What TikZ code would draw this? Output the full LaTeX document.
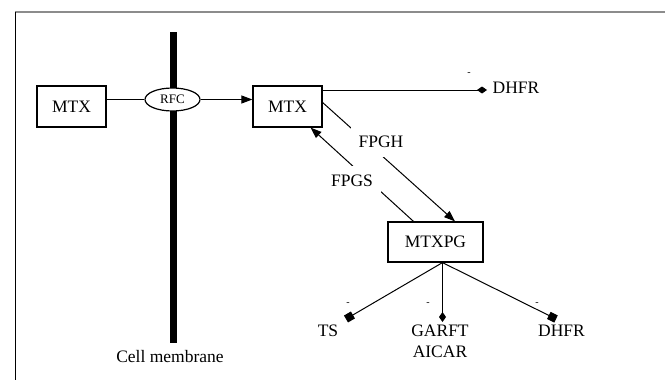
\documentclass[tikz,border=0pt]{standalone}
\usepackage{fontspec}
\setmainfont{Liberation Serif}
\usetikzlibrary{arrows.meta,positioning,shapes.geometric}

\begin{document}
\begin{tikzpicture}[
			x=1pt, y=-1pt,
			box/.style={draw, rectangle, line width=1.2pt, minimum width=69pt, minimum height=41pt, font=\fontsize{17.5}{20.5}\selectfont},
			channel/.style={draw, ellipse, fill=white, line width=1.2pt, minimum width=55pt, minimum height=23pt, inner sep=0pt, font=\fontsize{13}{15}\selectfont},
			membrane/.style={rectangle, fill=black, minimum width=7pt, minimum height=311pt, inner sep=0pt},
			title/.style={fill=none, align=center, inner sep=2pt, font=\fontsize{17.5}{20.5}\selectfont},
			enzyme/.style={title, fill=white, inner xsep=8pt, inner ysep=9pt},
			minusMark/.style={inner sep=0pt, font=\fontsize{10}{12}\selectfont},
			arrow/.style={line width=1pt},
			arrowStrong/.style={line width=1pt, -{Triangle[length=11pt,width=8pt]}},
			inhibitDiamond/.style={line width=1pt, -{Diamond[length=10pt,width=7pt]}},
			inhibitSquare/.style={line width=1pt, -{Square[length=8pt,width=8pt]}},
			]
			\useasboundingbox (0,0) rectangle (665,380);
			
			% frame
			\draw[gray!90, line width=1.5pt] (15,12) -- (665,12);
			\draw[line width=1pt] (15,12) -- (15,380);
			
			% membrane
			\draw node[membrane] (membraneBar) at (173,187.5) {};
			\draw node[title][below=5pt of membraneBar, xshift=-3pt] (membraneText) {Cell membrane};
			
			\draw node[box] (mtxOut) at (71.5,106.5) {MTX};
			\draw node[box] (mtxIn) at (287.5,106.5) {MTX};
			\draw node[channel] (rfc) at (172.5,99.5) {RFC};
			\draw node[box, minimum width=95pt, minimum height=40pt] (mtxpg) at (435.5,242) {MTXPG};
			
			% targets
			\draw node[title] (dhfrTop) at (516,88) {DHFR};
			\draw node[title] (ts) at (328,331) {TS};
			\draw node[title] (garft) at (440,341.5) {GARFT\\AICAR};
			\draw node[title] (dhfrLow) at (561.5,331) {DHFR};
			
			\coordinate (dhfrTopTip) at (487,90);
			\coordinate (tsTip) at (346,319);
			\coordinate (garftTip) at (442.5,322);
			\coordinate (dhfrLowTip) at (556,319);
			
			\foreach \x/\y [count=\i] in {469/74,348/304,428/304,537/304}
			\draw node[minusMark] (minus\i) at (\x,\y) {-};
			
			% Arrow
			\draw [arrow] (mtxOut.east |- rfc.west) -- (rfc.west);
			\draw [arrowStrong] (rfc.east) -- (mtxIn.west |- rfc.east);
			
			\draw [arrowStrong] ([yshift=4pt]mtxIn.east) -- ([xshift=19.5pt]mtxpg.north);
			\draw [arrowStrong] ([xshift=-22pt]mtxpg.north) -- ([xshift=-12pt]mtxIn.south east);
			
			\draw [inhibitDiamond] (mtxIn.east |- dhfrTopTip) -- (dhfrTopTip);
			\draw [inhibitSquare] ([xshift=7pt]mtxpg.south) -- (tsTip);
			\draw [inhibitDiamond] ([xshift=7pt]mtxpg.south) -- (garftTip);
			\draw [inhibitSquare] ([xshift=7pt]mtxpg.south) -- (dhfrLowTip);
			
			% enzymes
			\draw node[enzyme] (fpgh) at (381,142) {FPGH};
			\draw node[enzyme] (fpgs) at (352,181) {FPGS};
			
		\end{tikzpicture}
\end{document}
